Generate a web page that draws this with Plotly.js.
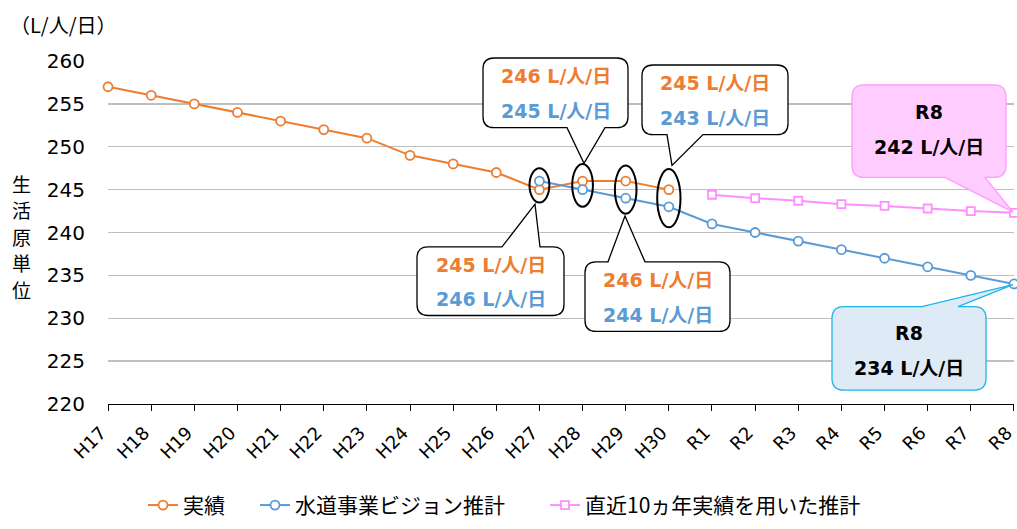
<!DOCTYPE html>
<html>
<head>
<meta charset="utf-8">
<script src="https://cdn.plot.ly/plotly-3.0.1.min.js"></script>
<style>html,body{margin:0;padding:0;background:#fff;}#chart{width:1017px;height:529px;}</style>
</head>
<body>
<div id="chart"></div>
<script>
const categories = ['H17','H18','H19','H20','H21','H22','H23','H24','H25','H26','H27','H28','H29','H30','R1','R2','R3','R4','R5','R6','R7','R8'];
const actualCats = ['H17','H18','H19','H20','H21','H22','H23','H24','H25','H26','H27','H28','H29','H30'];
const actualVals = [257,256,255,254,253,252,251,249,248,247,245,246,246,245];
const visionCats = ['H27','H28','H29','H30','R1','R2','R3','R4','R5','R6','R7','R8'];
const visionVals = [246,245,244,243,241,240,239,238,237,236,235,234];
const trendCats = ['R1','R2','R3','R4','R5','R6','R7','R8'];
const trendVals = [244.4,244.0,243.7,243.3,243.1,242.8,242.5,242.3];
const seriesNames = ['実績','水道事業ビジョン推計','直近10ヵ年実績を用いた推計'];
const unitText = 'L/人/日';
const yTitleText = '生活原単位';

const ORANGE = '#ED7D31', BLUE = '#5B9BD5', PINK = '#FF8FFF';
const FONT = 'DejaVu Sans, "Noto Sans CJK JP", sans-serif';
const JFONT = '"Noto Sans CJK JP", sans-serif';
const idx = c => categories.indexOf(c);

// plot area in pixels (for decorative callouts)
const L = 108, R = 1014, T = 61, B = 406;
const px = x => (x - L) / (R - L);
const py = y => (B - y) / (B - T);
const pt = (x, y) => px(x).toFixed(5) + ',' + py(y).toFixed(5);

function bubble(x0, y0, x1, y1, r, side, ta, tb, tipx, tipy) {
  let d = 'M' + pt(x0 + r, y0);
  if (side === 'top') d += ' L' + pt(ta, y0) + ' L' + pt(tipx, tipy) + ' L' + pt(tb, y0);
  d += ' L' + pt(x1 - r, y0) + ' Q' + pt(x1, y0) + ' ' + pt(x1, y0 + r);
  d += ' L' + pt(x1, y1 - r) + ' Q' + pt(x1, y1) + ' ' + pt(x1 - r, y1);
  if (side === 'bottom') d += ' L' + pt(tb, y1) + ' L' + pt(tipx, tipy) + ' L' + pt(ta, y1);
  d += ' L' + pt(x0 + r, y1) + ' Q' + pt(x0, y1) + ' ' + pt(x0, y1 - r);
  d += ' L' + pt(x0, y0 + r) + ' Q' + pt(x0, y0) + ' ' + pt(x0 + r, y0) + ' Z';
  return d;
}

const traces = [
  {x: actualCats.map(idx), y: actualVals, name: seriesNames[0], mode: 'lines+markers', legend: 'legend',
   line: {color: ORANGE, width: 2}, marker: {symbol: 'circle', size: 9, color: '#fff', line: {color: ORANGE, width: 1.8}}, cliponaxis: false},
  {x: visionCats.map(idx), y: visionVals, name: seriesNames[1], mode: 'lines+markers', legend: 'legend2',
   line: {color: BLUE, width: 2}, marker: {symbol: 'circle', size: 9, color: '#fff', line: {color: BLUE, width: 1.8}}, cliponaxis: false},
  {x: trendCats.map(idx), y: trendVals, name: seriesNames[2], mode: 'lines+markers', legend: 'legend3',
   line: {color: PINK, width: 2}, marker: {symbol: 'square', size: 8, color: '#fff', line: {color: PINK, width: 1.8}}, cliponaxis: false}
];

const shapes = [];
const annotations = [];

// ellipses around compared points
const ellipseCats = ['H27','H28','H29','H30'];
const ellipseHalfH = [2.0, 2.5, 2.8, 3.4];
const ellipseHalfW = [0.23, 0.24, 0.25, 0.27];
ellipseCats.forEach((c, i) => {
  const a = actualVals[actualCats.indexOf(c)], b = visionVals[visionCats.indexOf(c)];
  const m = (a + b) / 2;
  shapes.push({type: 'circle', xref: 'x', yref: 'y', layer: 'above',
    x0: idx(c) - ellipseHalfW[i], x1: idx(c) + ellipseHalfW[i], y0: m - ellipseHalfH[i], y1: m + ellipseHalfH[i],
    line: {color: '#000', width: 2}, fillcolor: 'rgba(0,0,0,0)'});
});

const TXT = 19;
// comparison callouts: [cat, box x0,y0,x1,y1, side, tail a,b, tip x,y]
const callouts = [
  ['H27', 417, 248, 564, 317, 'top', 502, 540, 535, 205],
  ['H28', 483, 58, 628, 128, 'bottom', 567, 605, 584, 164],
  ['H29', 585, 263, 730, 333, 'top', 608, 645, 625, 217],
  ['H30', 642, 65, 788, 135, 'bottom', 667, 703, 672, 166]
];
callouts.forEach(c => {
  shapes.push({type: 'path', xref: 'paper', yref: 'paper', layer: 'above',
    path: bubble(c[1], c[2], c[3], c[4], 11, c[5], c[6], c[7], c[8], c[9]),
    fillcolor: '#fff', line: {color: '#000', width: 1.3}});
  const cx = (c[1] + c[3]) / 2, h = c[4] - c[2];
  const a = actualVals[actualCats.indexOf(c[0])], b = visionVals[visionCats.indexOf(c[0])];
  annotations.push({xref: 'paper', yref: 'paper', x: px(cx), y: py(c[2] + h * 0.26), showarrow: false,
    text: '<b>' + a + ' ' + unitText + '</b>', font: {family: FONT, size: TXT, color: ORANGE}, xanchor: 'center', yanchor: 'middle'});
  annotations.push({xref: 'paper', yref: 'paper', x: px(cx), y: py(c[2] + h * 0.76), showarrow: false,
    text: '<b>' + b + ' ' + unitText + '</b>', font: {family: FONT, size: TXT, color: BLUE}, xanchor: 'center', yanchor: 'middle'});
});

// end callouts
const last = categories[categories.length - 1];
shapes.push({type: 'path', xref: 'paper', yref: 'paper', layer: 'above',
  path: bubble(852, 85, 1006, 178, 12, 'bottom', 945, 985, 1013, 213),
  fillcolor: '#FFCCFF', line: {color: '#FF99FF', width: 1.3}});
annotations.push({xref: 'paper', yref: 'paper', x: px(929), y: py(112), xanchor: 'center', yanchor: 'middle', showarrow: false,
  text: '<b>' + last + '</b>', font: {family: FONT, size: TXT, color: '#000'}});
annotations.push({xref: 'paper', yref: 'paper', x: px(929), y: py(147), xanchor: 'center', yanchor: 'middle', showarrow: false,
  text: '<b>' + Math.round(trendVals[trendVals.length - 1]) + ' ' + unitText + '</b>', font: {family: FONT, size: TXT, color: '#000'}});

shapes.push({type: 'path', xref: 'paper', yref: 'paper', layer: 'above',
  path: bubble(832, 308, 986, 392, 12, 'top', 922, 958, 1013, 286),
  fillcolor: '#DEEAF6', line: {color: '#1FB4E8', width: 1.3}});
annotations.push({xref: 'paper', yref: 'paper', x: px(909), y: py(335), xanchor: 'center', yanchor: 'middle', showarrow: false,
  text: '<b>' + last + '</b>', font: {family: FONT, size: TXT, color: '#000'}});
annotations.push({xref: 'paper', yref: 'paper', x: px(909), y: py(370), xanchor: 'center', yanchor: 'middle', showarrow: false,
  text: '<b>' + visionVals[visionVals.length - 1] + ' ' + unitText + '</b>', font: {family: FONT, size: TXT, color: '#000'}});

// unit label
annotations.push({xref: 'paper', yref: 'paper', x: px(8), y: py(24), xanchor: 'left', yanchor: 'middle', showarrow: false,
  text: '（' + unitText + '）', font: {family: JFONT, size: 20, color: '#000'}});
// vertical y title
Array.from(yTitleText).forEach((ch, i) => {
  annotations.push({xref: 'paper', yref: 'paper', x: px(21), y: py(184 + i * 26.7), xanchor: 'center', yanchor: 'middle', showarrow: false,
    text: ch, font: {family: JFONT, size: 19, color: '#000'}});
});

const legendBase = {orientation: 'h', xanchor: 'left', y: py(508), yanchor: 'middle',
  font: {family: JFONT, size: 21, color: '#000'}, itemwidth: 30, bgcolor: 'rgba(0,0,0,0)'};

const layout = {
  width: 1017, height: 529,
  margin: {l: L, r: 1017 - R, t: T, b: 529 - B},
  paper_bgcolor: '#fff', plot_bgcolor: '#fff',
  font: {family: FONT, color: '#000'},
  showlegend: true,
  legend: Object.assign({}, legendBase, {x: px(143)}),
  legend2: Object.assign({}, legendBase, {x: px(255)}),
  legend3: Object.assign({}, legendBase, {x: px(545)}),
  xaxis: {type: 'linear', range: [-0.001, categories.length - 1 + 0.001], tickvals: categories.map((c, i) => i), ticktext: categories,
    tickangle: -45, ticks: 'outside', ticklen: 6, tickcolor: '#000', tickwidth: 1, ticklabeloverflow: 'allow',
    ticklabelstandoff: 4, ticklabelshift: -7,
    showline: true, linecolor: '#000', linewidth: 1.3, showgrid: false, zeroline: false,
    tickfont: {family: FONT, size: 18, color: '#000'}},
  yaxis: {range: [220, 260], dtick: 5, tick0: 220, showgrid: true, gridcolor: '#BFBFBF', gridwidth: 1.3,
    showline: false, zeroline: false, ticks: '', ticklabelstandoff: 22,
    tickfont: {family: FONT, size: 20, color: '#000'}},
  shapes: shapes,
  annotations: annotations
};

Plotly.newPlot('chart', traces, layout, {displayModeBar: false, staticPlot: true});
</script>
</body>
</html>
